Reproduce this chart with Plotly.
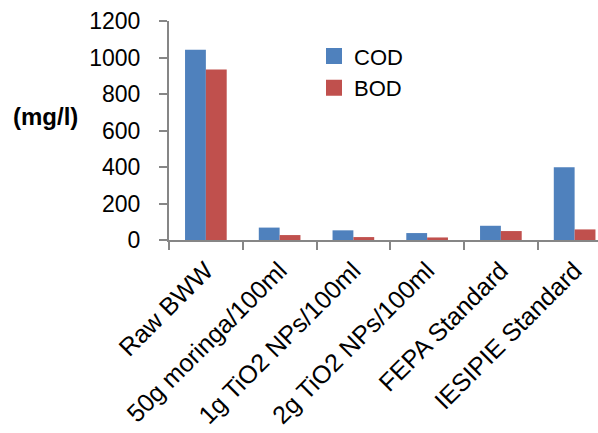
import plotly.graph_objects as go

categories = ["Raw BWW", "50g moringa/100ml", "1g TiO2 NPs/100ml",
              "2g TiO2 NPs/100ml", "FEPA Standard", "IESIPIE Standard"]
cod = [1043, 68, 53, 38, 78, 398]
bod = [934, 27, 16, 14, 49, 58]
y_ticks = [0, 200, 400, 600, 800, 1000, 1200]
series_names = ["COD", "BOD"]
colors = ["#4F81BD", "#C0504D"]

FONT = "Liberation Sans, Arial, sans-serif"
AX = "#868686"

fig = go.Figure()
for name, vals, col in zip(series_names, [cod, bod], colors):
    fig.add_trace(go.Bar(name=name, x=categories, y=vals, marker_color=col,
                         marker_line_width=0, showlegend=False))
# legend entries with larger square swatches
for name, col in zip(series_names, colors):
    fig.add_trace(go.Scatter(name=name, x=[None], y=[None], mode="markers",
                             marker=dict(symbol="square", size=16, color=col),
                             showlegend=True))

fig.update_layout(
    width=598, height=433,
    margin=dict(l=169, r=0, t=21, b=193),
    paper_bgcolor="white", plot_bgcolor="white",
    barmode="group", bargap=0.435, bargroupgap=0,
    font=dict(family=FONT, size=20, color="black"),
    showlegend=True,
    legend=dict(x=0.338, y=0.935, xanchor="left", yanchor="top",
                font=dict(size=22), bgcolor="rgba(0,0,0,0)",
                itemwidth=30),
    xaxis=dict(type="category", range=[-0.5, 5.317], showline=True,
               linecolor=AX, linewidth=2, ticks="outside", ticklen=8,
               tickwidth=2, tickcolor=AX, tickson="boundaries",
               tickangle=-45, showgrid=False, zeroline=False,
               automargin=False, ticklabelstandoff=4,
               tickfont=dict(size=25)),
    yaxis=dict(range=[0, 1200], tickvals=y_ticks, showline=True,
               linecolor=AX, linewidth=2, ticks="outside", ticklen=8,
               tickwidth=2, tickcolor=AX, showgrid=False, zeroline=False,
               automargin=False, ticklabelstandoff=14, tickfont=dict(size=23)),
)
fig.add_annotation(text="<b>(mg/l)</b>", xref="paper", yref="paper",
                   x=-0.368, y=0.565, xanchor="left", yanchor="middle",
                   showarrow=False, font=dict(size=24, color="black"))

fig.write_html("out.html")
